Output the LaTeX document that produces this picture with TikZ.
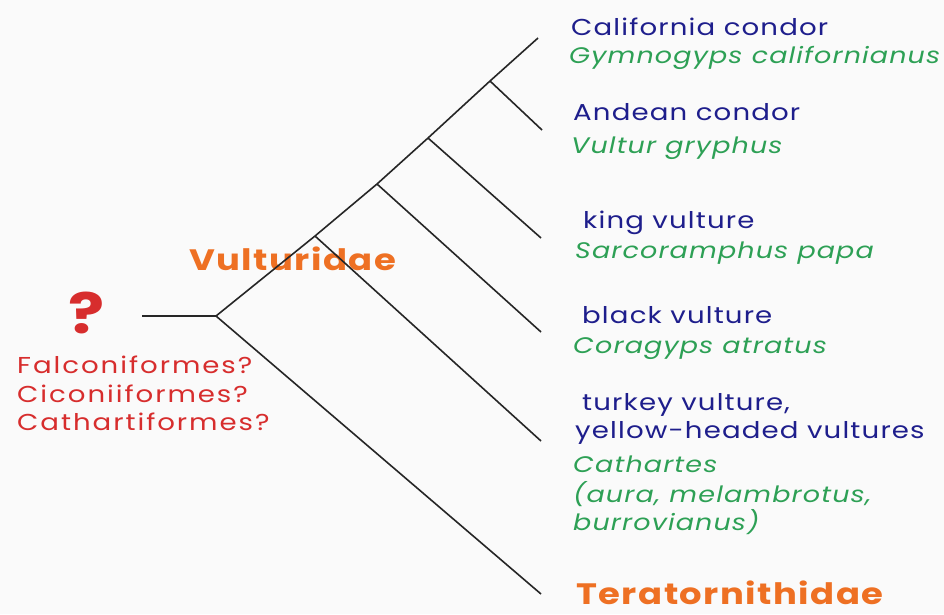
\documentclass[tikz,border=0pt]{standalone}
\usepackage{fontspec}
\setmainfont[FakeStretch=1.2, LetterSpace=5]{Poppins}
\definecolor{nameblue}{RGB}{30,30,140}
\definecolor{latgreen}{RGB}{45,160,85}
\definecolor{famorange}{RGB}{238,112,35}
\definecolor{qred}{RGB}{215,45,45}
\tikzset{
  branch/.style={line width=1.6pt, black!85},
  common/.style={anchor=base west, inner sep=0pt, text=nameblue, font=\fontsize{23}{26}\selectfont},
  latin/.style={anchor=base west, inner sep=0pt, text=latgreen, font=\fontsize{22.5}{26}\selectfont\itshape},
  family/.style={anchor=base west, inner sep=0pt, text=famorange, font=\fontsize{29.5}{32}\selectfont\bfseries},
  order/.style={anchor=base west, inner sep=0pt, text=qred, font=\fontsize{23}{26}\selectfont\addfontfeature{LetterSpace=8.5}}
}
\begin{document}
\begin{tikzpicture}[x=1pt, y=-1pt]
      \useasboundingbox (0,0) rectangle (944,614);
      \fill[black!2] (0,0) rectangle (944,614);

      % labels
      \node[common] (c1) at (571,35) {California condor};
      \node[latin] (l1) at (569,63) {Gymnogyps californianus};
      \node[common] (c2) at (573,120) {Andean condor};
      \node[latin] (l2) at (571,153) {Vultur gryphus};
      \node[common] (c3) at (583,228) {king vulture};
      \node[latin] (l3) at (575,258) {Sarcoramphus papa};
      \node[common] (c4) at (582,323) {black vulture};
      \node[latin] (l4) at (573,353) {Coragyps atratus};
      \node[common] (c5) at (582,410) {turkey vulture,};
      \node[common] (c5b) at (575,438) {yellow-headed vultures};
      \node[latin] (l5) at (573,472) {Cathartes};
      \node[latin] (l5b) at (573,502) {(aura, melambrotus,};
      \node[latin] (l5c) at (573,530) {burrovianus)};
      \node[family] (f2) at (576,604) {Teratornithidae};
      \node[family] (f1) at (189,270) {Vulturidae};

      \node[anchor=base west, inner sep=0pt, text=qred, font=\fontsize{56}{60}\selectfont\bfseries] (qm) at (68,333) {?};
      \node[order] (o1) at (17,373) {Falconiformes?};
      \node[order] (o2) at (17,402) {Ciconiiformes?};
      \node[order] (o3) at (17,430) {Cathartiformes?};

      % tree
      \coordinate (q) at (142,316);
      \coordinate (root) at (216,316);
      \coordinate (n4) at (315,236);
      \coordinate (n3) at (377,184);
      \coordinate (n2) at (428,138);
      \coordinate (n1) at (490,81);
      \coordinate (t1) at (538,38);
      \coordinate (t2) at (542,130);
      \coordinate (t3) at (541,238);
      \coordinate (t4) at (541,332);
      \coordinate (t5) at (541,441);
      \coordinate (t6) at (541,594);

      \path [branch]  (q) edge (root);
      \path [branch]  (root) edge (n4);
      \path [branch]  (n4) edge (n3);
      \path [branch]  (n3) edge (n2);
      \path [branch]  (n2) edge (n1);
      \path [branch]  (n1) edge (t1);
      \path [branch]  (n1) edge (t2);
      \path [branch]  (n2) edge (t3);
      \path [branch]  (n3) edge (t4);
      \path [branch]  (n4) edge (t5);
      \path [branch]  (root) edge (t6);
\end{tikzpicture}
\end{document}
